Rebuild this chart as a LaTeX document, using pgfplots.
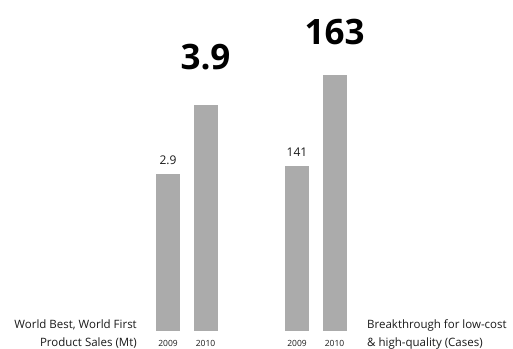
\documentclass[border=0pt]{standalone}
\usepackage{pgfplots}
\pgfplotsset{compat=1.18}
\usepackage{fontspec}
\setmainfont{Open Sans}
\definecolor{barg}{RGB}{171,171,171}
\definecolor{txt}{RGB}{25,25,25}
\pgfplotsset{
  barax/.style={
    scale only axis, width=75pt,
    xmin=-0.5, xmax=1.5,
    axis line style={draw=none},
    xtick={0,1}, xticklabels={2009,2010},
    ytick=\empty, major tick length=0pt,
    xticklabel style={font=\fontsize{8.5}{10}\selectfont, text=txt, yshift=-6pt},
    clip=false,
  },
}
\begin{document}
\begin{tikzpicture}
\path[use as bounding box] (0,0) rectangle (513pt,348pt);
% left group
\begin{axis}[barax, at={(149.25pt,17pt)}, anchor=south west,
  ymin=0.625, ymax=4.5, height=267.375pt]
\addplot[ybar, bar width=24pt, bar shift=0pt, fill=barg, draw=none,
  nodes near coords, point meta=explicit symbolic,
  every node near coord/.append style={font=\fontsize{12}{14}\selectfont, text=txt, yshift=6pt}]
  coordinates {(0,2.9)[2.9]};
\addplot[ybar, bar width=24pt, bar shift=0pt, fill=barg, draw=none,
  nodes near coords, point meta=explicit symbolic,
  every node near coord/.append style={font=\fontsize{35}{40}\selectfont\bfseries, text=black, yshift=32pt}]
  coordinates {(1,3.9)[3.9]};
\end{axis}
% right group
\begin{axis}[barax, at={(278.25pt,17pt)}, anchor=south west,
  ymin=101.1, ymax=173.63, height=300pt]
\addplot[ybar, bar width=24pt, bar shift=0pt, fill=barg, draw=none,
  nodes near coords, point meta=explicit symbolic,
  every node near coord/.append style={font=\fontsize{12}{14}\selectfont, text=txt, yshift=6pt}]
  coordinates {(0,141)[141]};
\addplot[ybar, bar width=24pt, bar shift=0pt, fill=barg, draw=none,
  nodes near coords, point meta=explicit symbolic,
  every node near coord/.append style={font=\fontsize{35}{40}\selectfont\bfseries, text=black, yshift=27pt}]
  coordinates {(1,163)[163]};
\end{axis}
\node[anchor=east, align=right, inner sep=0pt, text=txt, font=\fontsize{11.5}{18}\selectfont] at (137pt,14pt) {World Best, World First\\Product Sales (Mt)};
\node[anchor=west, align=left, inner sep=0pt, text=txt, font=\fontsize{11.5}{18}\selectfont] at (367pt,14pt) {Breakthrough for low-cost\\\& high-quality (Cases)};
\end{tikzpicture}
\end{document}
